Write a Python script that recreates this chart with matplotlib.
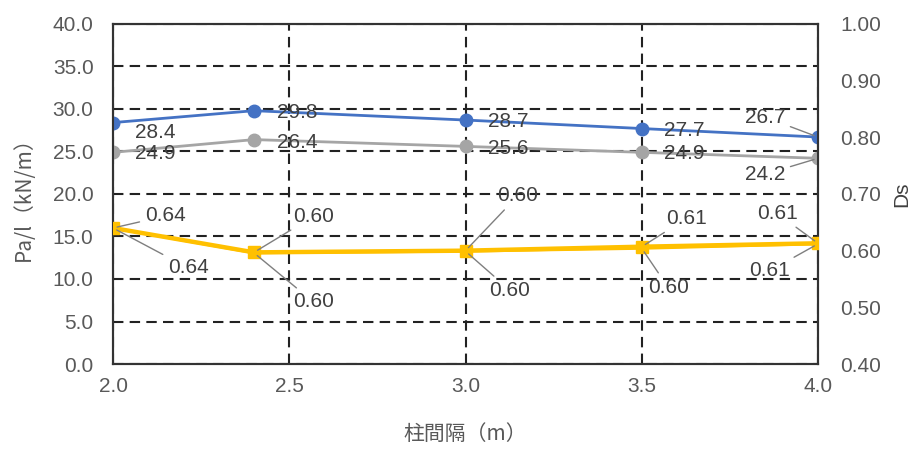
import matplotlib
matplotlib.use("Agg")
import matplotlib.pyplot as plt

# ── data ───────────────────────────────────────────────────────────────
span = [2.0, 2.4, 3.0, 3.5, 4.0]             # 柱間隔 (m)
pa_blue = [28.4, 29.8, 28.7, 27.7, 26.7]     # Pa/l (kN/m)
pa_gray = [24.9, 26.4, 25.6, 24.9, 24.2]
ds_a = [0.640, 0.597, 0.600, 0.607, 0.613]   # Ds
ds_b = [0.640, 0.596, 0.599, 0.604, 0.612]

x_ticks = [2.0, 2.5, 3.0, 3.5, 4.0]
x_label = "柱間隔（m）"
y_label = "Pa/l（kN/m）"
y2_label = "Ds"

# ── style ──────────────────────────────────────────────────────────────
C_BLUE = "#4472C4"
C_GRAY = "#A5A5A5"
C_ORG = "#FFC000"
C_TICK = "#595959"
C_TXT = "#404040"
C_LEAD = "#7F7F7F"
FS = 15

plt.rcParams["font.family"] = ["Liberation Sans", "Noto Sans CJK JP", "DejaVu Sans"]
JP = ["Noto Sans CJK JP", "DejaVu Sans"]

fig = plt.figure(figsize=(9.24, 4.5), dpi=100)
ax = fig.add_axes([0.1223, 0.1911, 0.7630, 0.7556])
ax2 = ax.twinx()

ax.plot(span, pa_blue, color=C_BLUE, lw=2.0, marker="o", ms=9, zorder=5)
ax.plot(span, pa_gray, color=C_GRAY, lw=2.0, marker="o", ms=9, zorder=4)
ax2.plot(span, ds_b, color=C_ORG, lw=2.0, zorder=3)
ax2.plot(span, ds_a, color=C_ORG, lw=3.2, marker="s", ms=9, zorder=3)

ax.set_xlim(2.0, 4.0)
ax.set_ylim(0, 40)
ax2.set_ylim(0.4, 1.0)
ax.set_xticks(x_ticks)
ax.set_xticklabels([f"{t:.1f}" for t in x_ticks])
ax.set_yticks(range(0, 41, 5))
ax.set_yticklabels([f"{v:.1f}" for v in range(0, 41, 5)])
ax2.set_yticks([0.4 + 0.1 * i for i in range(7)])
ax2.set_yticklabels([f"{0.4 + 0.1 * i:.2f}" for i in range(7)])

for a in (ax, ax2):
    for s in a.spines.values():
        s.set_color("#333333")
        s.set_linewidth(1.5)
ax.tick_params(axis="y", length=0, labelsize=FS, colors=C_TICK, pad=14)
ax.tick_params(axis="x", length=0, labelsize=FS, colors=C_TICK, pad=9)
ax2.tick_params(length=0, labelsize=FS, colors=C_TICK, pad=16)

ax.grid(True, color="#222222", ls=(0, (5, 3)), lw=1.5)

ax.set_xlabel(x_label, fontsize=FS, color=C_TICK, family=JP, labelpad=20)
ax.set_ylabel(y_label, fontsize=FS, color=C_TICK, family=JP, labelpad=13)
ax2.set_ylabel(y2_label, fontsize=FS, color=C_TXT, labelpad=8)

# ── data labels ───────────────────────────────────────────────────────
off_blue = [(22, -10, "left"), (23, -2, "left"), (22, -1, "left"), (22, -2, "left"), (-33, 20, "right")]
off_gray = [(22, -1, "left"), (23, -3, "left"), (22, -2, "left"), (22, -1, "left"), (-33, -16, "right")]
off_a = [(32, 12, "left"), (39, 36, "left"), (32, 55, "left"), (24, 28, "left"), (-41, 30, "center")]
off_b = [(55, -40, "left"), (39, -49, "left"), (24, -39, "left"), (6, -39, "left"), (-28, -27, "right")]

lead = dict(arrowstyle="-", color=C_LEAD, lw=1.0, shrinkA=2, shrinkB=3)


def label(axis, xs, ys, offs, fmt, leaders):
    for i, (xv, yv) in enumerate(zip(xs, ys)):
        dx, dy, ha = offs[i]
        axis.annotate(format(yv, fmt), (xv, yv), xytext=(dx, dy),
                      textcoords="offset pixels", ha=ha, va="center",
                      fontsize=FS, color=C_TXT, zorder=6,
                      arrowprops=lead if i in leaders else None,
                      annotation_clip=False)


label(ax, span, pa_blue, off_blue, ".1f", [4])
label(ax, span, pa_gray, off_gray, ".1f", [4])
label(ax2, span, ds_a, off_a, ".2f", [0, 1, 2, 3, 4])
label(ax2, span, ds_b, off_b, ".2f", [0, 1, 2, 3, 4])

fig.savefig("out.png", dpi=100)
